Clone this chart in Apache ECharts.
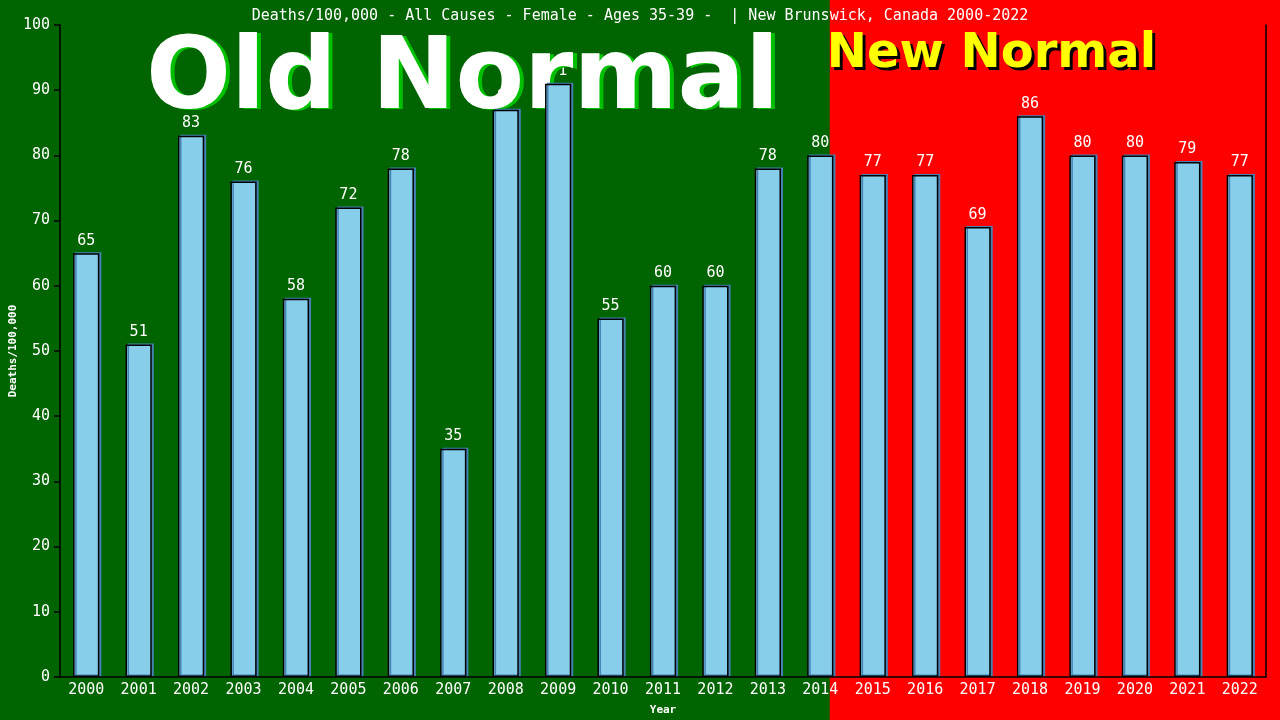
<!DOCTYPE html>
<html><head><meta charset="utf-8">
<script src="https://cdn.jsdelivr.net/npm/echarts@6/dist/echarts.min.js"></script>
<style>html,body{margin:0;padding:0;background:#006400;overflow:hidden}#c{width:1280px;height:720px}</style>
</head><body><div id="c"></div>
<script>
const years = ['2000','2001','2002','2003','2004','2005','2006','2007','2008','2009','2010','2011','2012','2013','2014','2015','2016','2017','2018','2019','2020','2021','2022'];
const deaths = [65,51,83,76,58,72,78,35,87,91,55,60,60,78,80,77,77,69,86,80,80,79,77];
const titleText = 'Deaths/100,000 - All Causes - Female - Ages 35-39 -  | New Brunswick, Canada 2000-2022';
const yMin = 0, yMax = 100, yStep = 10;
const newNormalStart = 14.18; // position on the year scale where the red region starts
const oldLabel = 'Old Normal';
const newLabel = 'New Normal';

const mono = 'DejaVu Sans Mono';
const chart = echarts.init(document.getElementById('c'), null, {renderer: 'canvas'});

const option = {
  backgroundColor: '#006400',
  animation: false,
  title: {
    text: titleText, left: 'center', top: 4,
    textStyle: {color: '#fff', fontFamily: mono, fontSize: 15, fontWeight: 'normal'}
  },
  grid: {left: 60, right: 14, top: 25, bottom: 43, containLabel: false, outerBoundsMode: 'none'},
  xAxis: [{
    type: 'category', data: years,
    name: 'Year', nameLocation: 'middle', nameGap: 28, nameMoveOverlap: false,
    nameTextStyle: {color: '#fff', fontFamily: mono, fontSize: 11, fontWeight: 'bold'},
    axisLine: {onZero: false, lineStyle: {color: '#000', width: 1.5}},
    axisTick: {show: false},
    axisLabel: {color: '#fff', fontFamily: mono, fontSize: 15, margin: 6, interval: 0}
  }, {
    type: 'value', min: -0.5, max: years.length - 0.5, show: false
  }],
  yAxis: [{
    type: 'value', min: yMin, max: yMax, interval: yStep,
    name: 'Deaths/100,000', nameLocation: 'middle', nameGap: 47, nameMoveOverlap: false, nameRotate: 90,
    nameTextStyle: {color: '#fff', fontFamily: mono, fontSize: 11, fontWeight: 'bold', align: 'center', verticalAlign: 'middle'},
    axisLine: {show: true, onZero: false, lineStyle: {color: '#000', width: 1.5}},
    axisTick: {show: true, inside: false, length: 6, lineStyle: {color: '#000', width: 1.5}},
    axisLabel: {color: '#fff', fontFamily: mono, fontSize: 15, margin: 10},
    splitLine: {show: false}
  }, {
    type: 'value', min: yMin, max: yMax, position: 'right',
    axisLine: {show: true, onZero: false, lineStyle: {color: '#000', width: 1.5}},
    axisTick: {show: false}, axisLabel: {show: false}, splitLine: {show: false}
  }],
  series: [{
    name: 'labels', type: 'bar', data: deaths, barWidth: '50%', z: 1,
    itemStyle: {color: 'rgba(0,0,0,0)'},
    label: {show: true, position: 'top', distance: 5, color: '#fff', fontFamily: mono, fontSize: 15}
  }, {
    name: 'deaths', type: 'bar', data: deaths, barWidth: '50%', barGap: '-100%', z: 10,
    itemStyle: {
      color: '#87CEEB', borderColor: '#000', borderWidth: 1.5,
      shadowColor: '#4682B4', shadowBlur: 0, shadowOffsetX: 2, shadowOffsetY: -1
    },
    label: {show: false}
  }]
};
chart.setOption(option);

function placeGraphics() {
  const xStart = chart.convertToPixel({xAxisIndex: 1}, newNormalStart);
  const W = chart.getWidth(), H = chart.getHeight();
  const bigFont = 'bold 100px "DejaVu Sans", sans-serif';
  const newFont = 'bold 48px "DejaVu Sans", sans-serif';
  const oldX = 146, oldY = 82;
  const newX = xStart - 3, newY = 55;
  chart.setOption({
    graphic: [
      {type: 'rect', z: -10, silent: true, shape: {x: xStart, y: 0, width: W - xStart, height: H}, style: {fill: '#FF0000'}},
      {type: 'text', z: 4, silent: true,
        style: {x: oldX + 4, y: oldY + 1, text: oldLabel, fill: '#00C000', font: bigFont, align: 'left', verticalAlign: 'middle'}},
      {type: 'text', z: 5, silent: true,
        style: {x: oldX, y: oldY, text: oldLabel, fill: '#fff', font: bigFont, align: 'left', verticalAlign: 'middle'}},
      {type: 'text', z: 4, silent: true,
        style: {x: newX + 3, y: newY + 3, text: newLabel, fill: '#000', font: newFont, align: 'left', verticalAlign: 'middle'}},
      {type: 'text', z: 5, silent: true,
        style: {x: newX, y: newY, text: newLabel, fill: '#FFFF00', font: newFont, align: 'left', verticalAlign: 'middle'}}
    ]
  });
}
placeGraphics();
</script>
</body></html>
